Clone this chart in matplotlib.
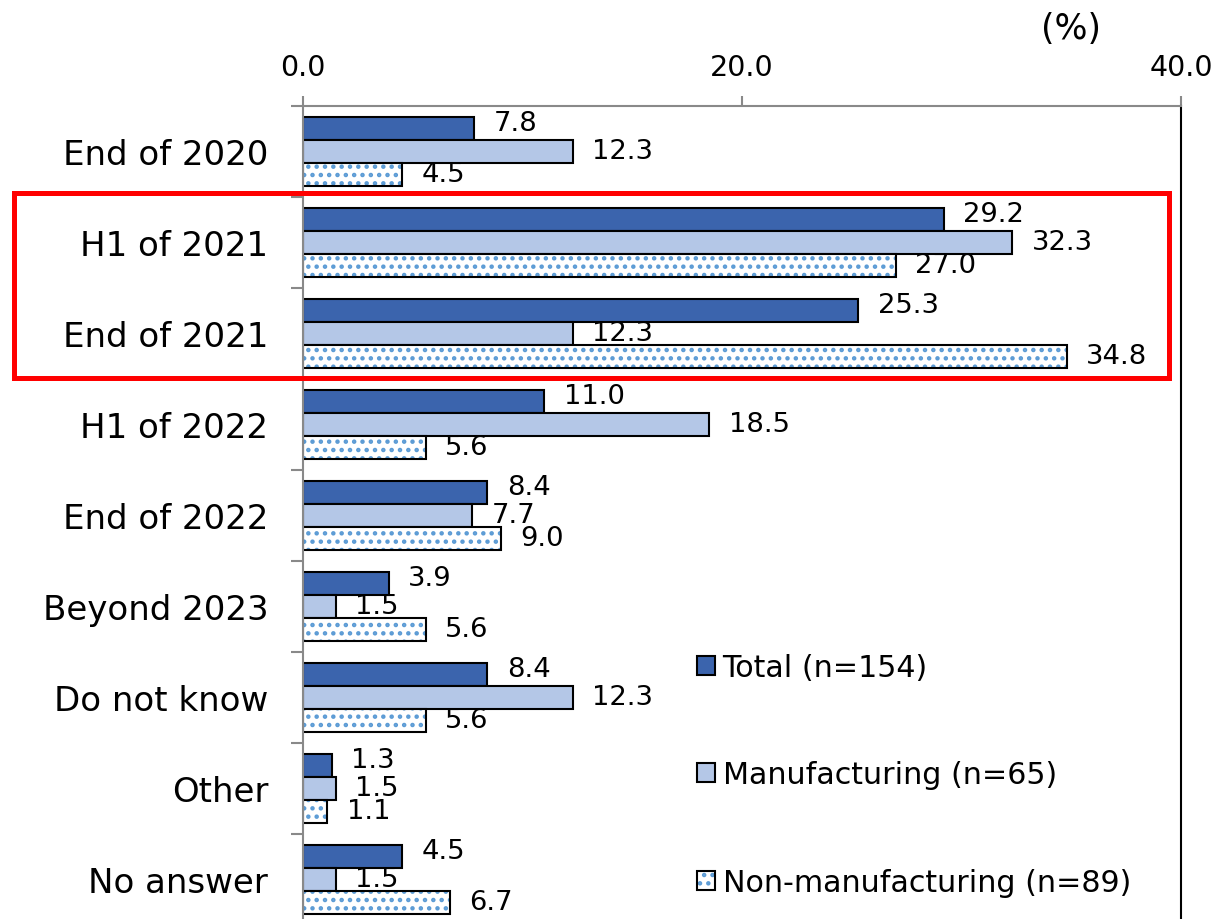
import matplotlib
matplotlib.use("Agg")
import matplotlib.pyplot as plt
import matplotlib.patches as mpatches
import matplotlib.transforms as mtransforms
from matplotlib.ticker import FixedLocator, FormatStrFormatter
from matplotlib.legend_handler import HandlerTuple
import numpy as np

# DATA
categories = ['End of 2020', 'H1 of 2021', 'End of 2021', 'H1 of 2022',
              'End of 2022', 'Beyond 2023', 'Do not know', 'Other', 'No answer']
total = [7.8, 29.2, 25.3, 11.0, 8.4, 3.9, 8.4, 1.3, 4.5]
manufacturing = [12.3, 32.3, 12.3, 18.5, 7.7, 1.5, 12.3, 1.5, 1.5]
non_manufacturing = [4.5, 27.0, 34.8, 5.6, 9.0, 5.6, 5.6, 1.1, 6.7]
series_names = ['Total (n=154)', 'Manufacturing (n=65)', 'Non-manufacturing (n=89)']
highlighted = ['H1 of 2021', 'End of 2021']

DARK = '#3B64AD'
LIGHT = '#B4C7E7'
DOTS = '#5B9BD5'
GREY = '#898989'

plt.rcParams['font.family'] = 'DejaVu Sans'
plt.rcParams['hatch.linewidth'] = 2.0

fig = plt.figure(figsize=(12.15, 9.2), dpi=100)
ax = fig.add_axes([303 / 1215, -6 / 920, 878 / 1215, 819 / 920])

y = np.arange(len(categories))
h = 0.25

b_total = ax.barh(y - h, total, height=h, color=DARK, edgecolor='black', linewidth=1.5)
b_manu = ax.barh(y, manufacturing, height=h, color=LIGHT, edgecolor='black', linewidth=1.5)
# dotted fill first, then a plain black outline on top
b_non_fill = ax.barh(y + h, non_manufacturing, height=h, color='white', edgecolor=DOTS,
                     hatch='..', linewidth=0)
b_non_edge = ax.barh(y + h, non_manufacturing, height=h, fill=False, edgecolor='black',
                     linewidth=1.5)

# value labels
for vals, off, dy in [(total, -h, 4), (manufacturing, 0, 0), (non_manufacturing, h, 0)]:
    for yi, v in zip(y, vals):
        ax.annotate(f'{v:.1f}', xy=(v, yi + off), xytext=(14, dy),
                    textcoords='offset points', ha='left', va='center',
                    fontsize=19.7, color='black')

ax.set_xlim(0, 40)
ax.set_ylim(len(categories) - 0.5, -0.5)

# x axis on top
ax.xaxis.tick_top()
ax.xaxis.set_major_locator(FixedLocator([0, 20, 40]))
ax.xaxis.set_major_formatter(FormatStrFormatter('%.1f'))
ax.tick_params(axis='x', which='major', direction='out', length=7.2, width=1.5,
               color=GREY, labelsize=20.5, pad=11)

# category labels in the middle, tick marks on the boundaries
ax.set_yticks(y)
ax.set_yticklabels(categories)
ax.yaxis.set_minor_locator(FixedLocator(np.arange(-0.5, len(categories), 1.0)))
ax.tick_params(axis='y', which='major', length=0, labelsize=24.5, pad=25)
ax.tick_params(axis='y', which='minor', direction='out', length=8.6, width=1.5, color=GREY)

for s in ['top', 'left']:
    ax.spines[s].set_color(GREY)
    ax.spines[s].set_linewidth(1.5)
ax.spines['right'].set_color('black')
ax.spines['right'].set_linewidth(1.5)
ax.spines['bottom'].set_visible(False)

fig.text(1071 / 1215, 1 - 29 / 920, '(%)', fontsize=25, ha='center', va='center')

# red frame around the highlighted periods
i0 = categories.index(highlighted[0])
i1 = categories.index(highlighted[-1])
trans = mtransforms.blended_transform_factory(ax.transAxes, ax.transData)
frame = mpatches.Rectangle((-0.3286, i0 - 0.54), 1.3144, (i1 - i0) + 1.03,
                           transform=trans, fill=False, edgecolor='#FF0000',
                           linewidth=3.6, clip_on=False, zorder=10)
ax.add_patch(frame)

leg = ax.legend([b_total, b_manu, (b_non_fill, b_non_edge)], series_names,
                handler_map={tuple: HandlerTuple(ndivide=1)},
                loc='upper left', bbox_to_anchor=(697 / 1215, 1 - 654 / 920),
                bbox_transform=fig.transFigure, frameon=False, fontsize=21.7,
                handlelength=0.6, handleheight=0.6, handletextpad=0.25,
                labelspacing=2.6, borderpad=0, borderaxespad=0)

fig.savefig('out.png', dpi=100)
